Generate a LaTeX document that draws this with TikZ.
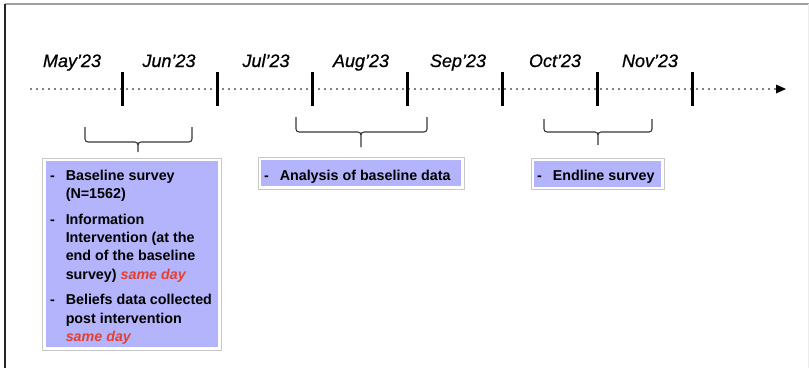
\documentclass[tikz,border=0pt]{standalone}
\usepackage{fontspec}
\setmainfont{Liberation Sans}
\newfontfamily\monthfont[FakeBold=0.7]{Liberation Sans}
\usetikzlibrary{arrows.meta}
\definecolor{boxblue}{RGB}{180,180,252}
\definecolor{redtxt}{RGB}{228,64,48}
\definecolor{framegray}{RGB}{200,200,200}
\definecolor{bracegray}{RGB}{55,55,55}
\newcommand\tlbrace[6]{%
  \draw[bracepath] (#1,#4) -- (#1,#5-3) to[out=-90,in=180] (#1+3,#5) -- (#3-3,#5) to[out=0,in=90] (#3,#5+3) -- (#3,#6);
  \draw[bracepath] (#2,#4) -- (#2,#5-3) to[out=-90,in=0] (#2-3,#5) -- (#3+3,#5) to[out=180,in=90] (#3,#5+3);
}
\begin{document}
\begin{tikzpicture}[x=1pt,y=-1pt,
  month/.style={font=\monthfont\fontsize{18}{20}\selectfont\itshape, anchor=base, inner sep=0pt},
  tickline/.style={line width=3pt},
  dotline/.style={line width=1.8pt, line cap=round, dash pattern=on 0pt off 6pt},
  bracepath/.style={draw=bracegray, line width=1.1pt},
  outerbox/.style={draw=framegray, line width=0.9pt, fill=white, anchor=north west, inner sep=0pt},
  innerbox/.style={fill=boxblue, anchor=north west, inner sep=0pt},
  boxtext/.style={font=\fontsize{14.3}{18.3}\selectfont\bfseries, anchor=base west, inner sep=0pt, align=left}
]
\useasboundingbox (0,0) rectangle (809,368);
% frame
\draw[gray!75, line width=1.2pt] (5,4) -- (809,4);
\draw[black!85, line width=1.2pt] (5,4) -- (5,368);
\draw[gray!15, line width=0.8pt] (808,4) -- (808,368);

% timeline
\coordinate (tstart) at (31,89);
\coordinate (tend) at (786,89);
\coordinate (tarr) at (776,89);
\draw[dotline] (tstart) -- (tarr);
\fill (tarr) ++(0,-4.5) -- (tend) -- ++(-10,4.5) -- cycle;

\foreach \x/\n in {122/t1,217/t2,312/t3,407/t4,502/t5,597/t6,692/t7}{
  \coordinate (\n a) at (\x,72);
  \coordinate (\n b) at (\x,106);
  \draw[tickline] (\n a) -- (\n b);
}

% month labels
\node[month] (m1) at (72,67) {May’23};
\node[month] (m2) at (169,67) {Jun’23};
\node[month] (m3) at (266,67) {Jul’23};
\node[month] (m4) at (361,67) {Aug’23};
\node[month] (m5) at (458,67) {Sep’23};
\node[month] (m6) at (555,67) {Oct’23};
\node[month] (m7) at (650,67) {Nov’23};

% braces
\tlbrace{85}{192}{138}{127}{142}{152}
\tlbrace{296}{427}{361}{117}{132}{147}
\tlbrace{544}{652}{598}{119}{132}{145}

% boxes
\node[outerbox, minimum width=179, minimum height=192] (b1o) at (42,158) {};
\node[innerbox, minimum width=172, minimum height=186] (b1) at (45.5,161) {};
\node[outerbox, minimum width=206, minimum height=32] (b2o) at (258,157) {};
\node[innerbox, minimum width=200, minimum height=26] (b2) at (261,160) {};
\node[outerbox, minimum width=133, minimum height=31] (b3o) at (531,158) {};
\node[innerbox, minimum width=127, minimum height=25.5] (b3) at (534,161) {};

\node[boxtext] (t1) at (50,180) {\renewcommand\arraystretch{1}%
\begin{tabular}[t]{@{}l@{\hspace{10.8pt}}l@{}}
- & Baseline survey\\
  & (N=1562)\\[7.5pt]
- & Information\\
  & Intervention (at the\\
  & end of the baseline\\
  & survey) {\color{redtxt}\itshape same day}\\[7.5pt]
- & Beliefs data collected\\
  & post intervention\\
  & {\color{redtxt}\itshape same day}
\end{tabular}};

\node[boxtext] (t2) at (264,180) {-\hspace{10.8pt}Analysis of baseline data};
\node[boxtext] (t3) at (537,180) {-\hspace{10.8pt}Endline survey};
\end{tikzpicture}
\end{document}
